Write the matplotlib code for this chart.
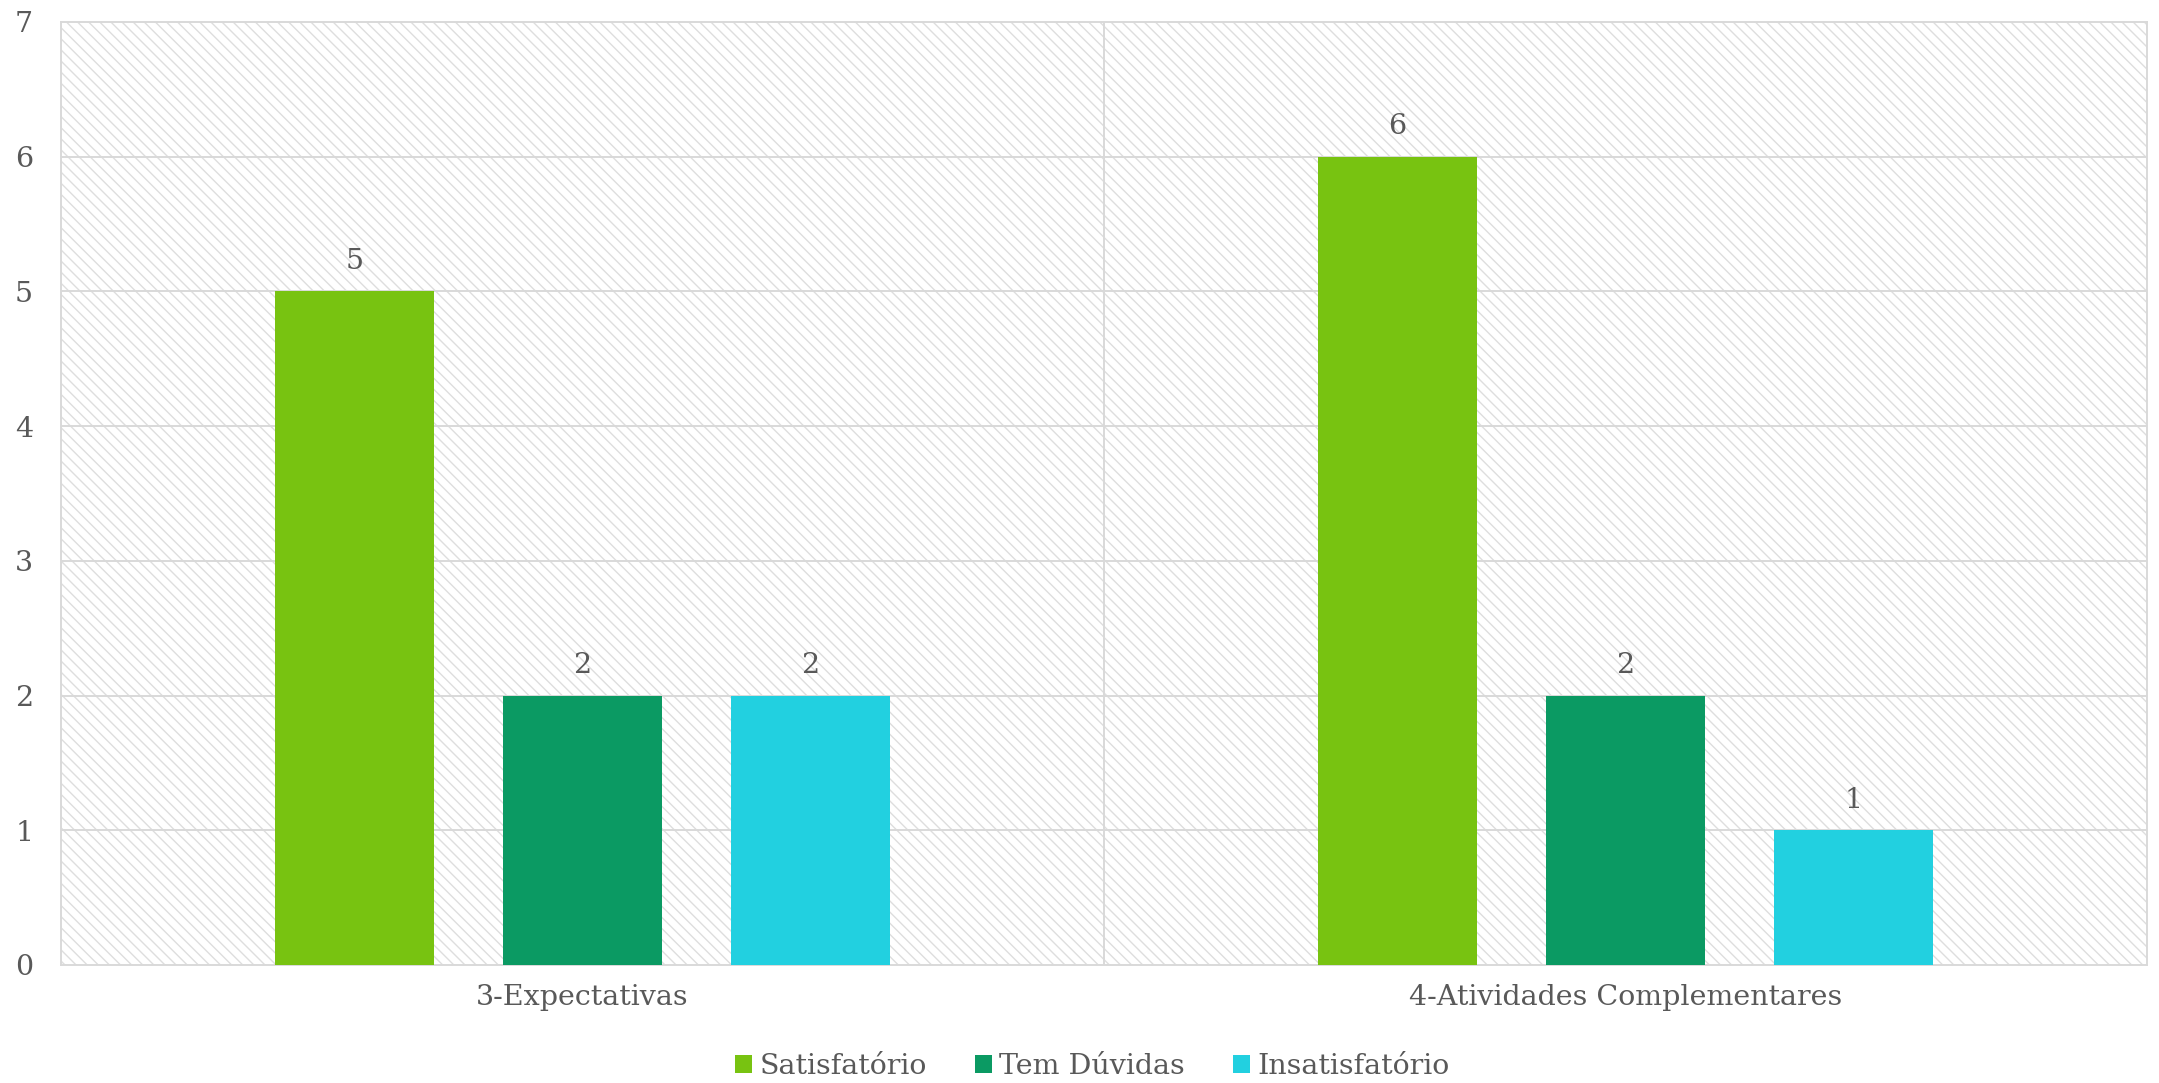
import numpy as np
import matplotlib
matplotlib.use("Agg")
import matplotlib.pyplot as plt
from matplotlib.patches import Rectangle

# --------------------------------------------------
# Data
# --------------------------------------------------

categories = ["3-Expectativas", "4-Atividades Complementares"]
series_names = ["Satisfatório", "Tem Dúvidas", "Insatisfatório"]
satisfatorio = [5, 6]
tem_duvidas = [2, 2]
insatisfatorio = [2, 1]
y_ticks = [0, 1, 2, 3, 4, 5, 6, 7]

colors = ["#78C311", "#0B9A63", "#22D0E0"]
TEXT = "#595959"
GRID = "#D9D9D9"
HATCH = "#DEDEDE"

plt.rcParams["font.family"] = ["DejaVu Serif", "DejaVu Sans"]
plt.rcParams["hatch.color"] = HATCH
plt.rcParams["hatch.linewidth"] = 1.0

FS = 20.5

# --------------------------------------------------
# Plot
# --------------------------------------------------

fig = plt.figure(figsize=(21.59, 10.83), dpi=100)
ax = fig.add_axes([0.02825, 0.10896, 0.9662, 0.87073])

# hatched plot area background
bg = Rectangle((0, 0), 1, 1, transform=ax.transAxes, facecolor="white",
               edgecolor=HATCH, hatch="\\\\\\", linewidth=0, zorder=0)
ax.add_patch(bg)

x = np.arange(len(categories))
width = 0.1525
offsets = [-0.2186, 0.0, 0.2186]
values = [satisfatorio, tem_duvidas, insatisfatorio]

for name, vals, off, col in zip(series_names, values, offsets, colors):
    bars = ax.bar(x + off, vals, width, color=col, label=name, zorder=3)
    ax.bar_label(bars, padding=12, fontsize=FS, color=TEXT)

ax.set_xlim(-0.5, len(categories) - 0.5)
ax.set_ylim(0, 7)
ax.set_yticks(y_ticks)
ax.set_xticks(x)
ax.set_xticklabels(categories)

# gridlines
for yv in y_ticks[1:-1]:
    ax.axhline(yv, color=GRID, lw=1.4, zorder=1)
for xv in x[:-1]:
    ax.axvline(xv + 0.5, color=GRID, lw=1.4, zorder=1)

for s in ax.spines.values():
    s.set_color(GRID)
    s.set_linewidth(1.4)

ax.tick_params(axis="both", length=0, labelsize=FS, colors=TEXT)
ax.tick_params(axis="y", pad=20)
ax.tick_params(axis="x", pad=14)

fig.legend(loc="center", bbox_to_anchor=(0.506, 0.015), ncol=3, frameon=False,
           fontsize=FS, labelcolor=TEXT, handlelength=0.6, handleheight=0.6,
           handletextpad=0.25, columnspacing=1.7)

fig.savefig("out.png", dpi=100)
